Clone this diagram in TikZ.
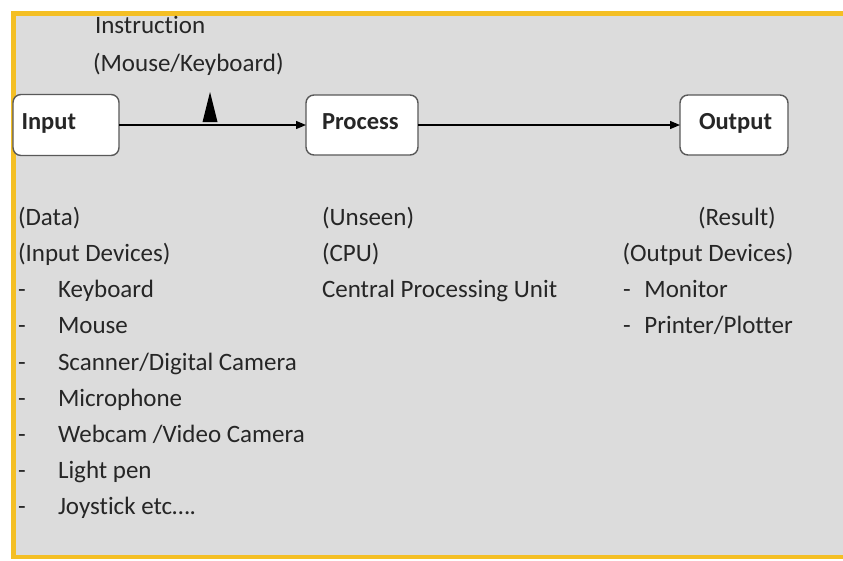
\documentclass[tikz,border=0pt]{standalone}
\usepackage{fontspec}
\setmainfont[Ligatures={NoCommon,NoRare}]{Carlito}
\usetikzlibrary{arrows.meta}
\definecolor{frameyel}{HTML}{F4BF24}
\definecolor{panel}{HTML}{DCDCDC}
\definecolor{txt}{HTML}{262626}
\begin{document}
\begin{tikzpicture}[x=1pt,y=-1pt,
  every node/.style={inner sep=0pt, outer sep=0pt, text=txt, font=\fontsize{25}{29}\selectfont},
  lbl/.style={anchor=base west},
  boxlbl/.style={anchor=base west, font=\fontsize{24.5}{29}\selectfont\bfseries},
  stagebox/.style={draw=black!65, line width=1.4pt, fill=white, rounded corners=8pt},
  flow/.style={line width=1.3pt, -{Triangle[length=10pt,width=8pt]}}]
\useasboundingbox (0,0) rectangle (843,560);
\fill[white] (0,0) rectangle (843,560);
\fill[panel] (13.5,13.5) rectangle (843,557);
\draw[frameyel, line width=4.5pt] (843,13.5) -- (13.5,13.5) -- (13.5,557) -- (843,557);

% stage boxes
\node[stagebox, minimum width=106pt, minimum height=61pt] (input) at (66,125) {};
\node[stagebox, minimum width=112pt, minimum height=60pt] (process) at (362,125) {};
\node[stagebox, minimum width=108pt, minimum height=60pt] (output) at (734,125) {};
\node[boxlbl] (inputlbl) at (21.5,129) {Input};
\node[boxlbl] (processlbl) at (322,129) {Process};
\node[boxlbl] (outputlbl) at (699,129) {Output};

% connectors
\draw[flow] (input.east) -- (process.west);
\draw[flow] (process.east) -- (output.west);
\fill[black] (202.5,122) -- (210,92) -- (217.5,122) -- cycle;

% instruction text
\node[lbl] (instr) at (95,33) {Instruction};
\node[lbl] (instr2) at (93,71) {(Mouse/Keyboard)};

% input column
\node[lbl] (data) at (18,225) {(Data)};
\node[lbl] (indev) at (18,261.5) {(Input Devices)};
\foreach \t [count=\i] in {Keyboard,Mouse,Scanner/Digital Camera,Microphone,Webcam /Video Camera,Light pen,Joystick etc….}{
  \node[lbl] (dash\i) at (18,261.5+36.2*\i) {-};
  \node[lbl] (item\i) at (58,261.5+36.2*\i) {\t};
}

% process column
\node[lbl] (unseen) at (322,225) {(Unseen)};
\node[lbl] (cpu) at (322,261.5) {(CPU)};
\node[lbl] (cpufull) at (322,297.5) {Central Processing Unit};

% output column
\node[lbl] (result) at (698,225) {(Result)};
\node[lbl] (outdev) at (622.5,261.5) {(Output Devices)};
\node[lbl] (mon) at (623,297.5) {-\hspace{0.55em}Monitor};
\node[lbl] (prn) at (623,333.5) {-\hspace{0.55em}Printer/Plotter};
\end{tikzpicture}
\end{document}
